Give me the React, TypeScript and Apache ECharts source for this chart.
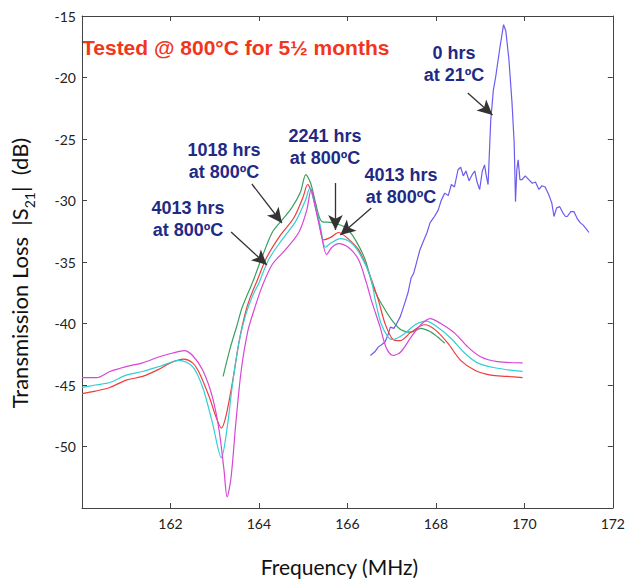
import React, { useEffect, useRef } from "react";
import * as echarts from "echarts";

// ---- Data ----
const greenFreq = [163.19, 163.35, 163.5, 163.62, 163.85, 164.07, 164.3, 164.52, 164.74, 164.94, 165.06, 165.17, 165.28, 165.42, 165.65, 165.96, 166.18, 166.4, 166.58, 166.77, 167.0, 167.21, 167.44, 167.66, 167.89, 168.04, 168.2];
const greenLoss = [-44.3, -42.0, -40.2, -38.7, -36.7, -34.6, -32.6, -31.6, -30.6, -29.3, -27.9, -28.6, -30.2, -31.7, -31.8, -32.2, -33.2, -34.8, -37.0, -38.4, -39.7, -40.5, -40.7, -40.4, -40.7, -41.1, -41.6];

const redFreq = [160.0, 160.3, 160.63, 161.0, 161.37, 161.75, 162.0, 162.3, 162.5, 162.65, 162.88, 163.03, 163.15, 163.25, 163.4, 163.55, 163.68, 163.8, 163.96, 164.18, 164.49, 164.79, 165.0, 165.1, 165.2, 165.35, 165.46, 165.62, 165.8, 165.98, 166.25, 166.47, 166.7, 166.85, 167.03, 167.19, 167.44, 167.75, 167.98, 168.27, 168.56, 168.88, 169.24, 169.6, 169.96];
const redLoss = [-45.7, -45.5, -45.2, -44.6, -44.3, -43.7, -43.2, -42.9, -43.2, -44.0, -46.0, -47.6, -48.5, -47.6, -44.8, -41.5, -39.3, -37.9, -36.5, -34.6, -32.8, -31.4, -29.7, -28.7, -29.4, -31.6, -33.2, -33.0, -32.6, -33.0, -34.0, -35.7, -38.1, -40.0, -41.3, -41.4, -40.7, -40.1, -40.5, -41.6, -43.0, -43.8, -44.2, -44.3, -44.4];

const cyanFreq = [160.0, 160.3, 160.63, 161.0, 161.37, 161.75, 162.2, 162.5, 162.73, 162.95, 163.15, 163.28, 163.4, 163.55, 163.7, 163.85, 164.0, 164.22, 164.52, 164.83, 165.05, 165.15, 165.24, 165.39, 165.5, 165.65, 165.84, 166.07, 166.29, 166.52, 166.63, 166.76, 166.92, 167.03, 167.3, 167.53, 167.78, 168.04, 168.34, 168.65, 168.94, 169.33, 169.96];
const cyanLoss = [-45.2, -45.0, -44.8, -44.2, -43.9, -43.5, -43.0, -43.5, -45.2, -48.1, -50.9, -48.5, -45.0, -41.5, -39.3, -37.8, -36.7, -34.8, -33.2, -31.7, -30.0, -29.0, -30.0, -32.1, -33.8, -33.4, -33.1, -33.4, -34.4, -36.2, -38.1, -40.0, -41.1, -41.3, -40.8, -40.1, -39.8, -40.3, -41.2, -42.4, -43.2, -43.6, -43.9];

const magentaFreq = [160.0, 160.33, 160.63, 161.0, 161.37, 161.75, 162.05, 162.31, 162.5, 162.73, 162.95, 163.1, 163.21, 163.28, 163.37, 163.48, 163.6, 163.75, 163.9, 164.07, 164.3, 164.6, 164.9, 165.08, 165.18, 165.27, 165.4, 165.53, 165.65, 165.8, 166.02, 166.25, 166.43, 166.54, 166.74, 166.88, 167.03, 167.21, 167.44, 167.66, 167.87, 168.11, 168.43, 168.72, 169.01, 169.39, 169.96];
const magentaLoss = [-44.4, -44.4, -43.9, -43.5, -43.2, -42.7, -42.4, -42.2, -42.6, -43.8, -46.0, -48.7, -51.9, -54.1, -52.5, -48.0, -43.8, -40.6, -38.8, -37.0, -35.2, -34.0, -32.6, -30.8, -29.1, -30.5, -32.6, -34.4, -33.8, -33.5, -33.8, -34.8, -36.7, -38.1, -40.3, -42.0, -42.6, -42.3, -41.1, -40.1, -39.6, -40.0, -40.8, -41.9, -42.7, -43.1, -43.2];

const blueFreq = [166.52, 166.62, 166.7, 166.78, 166.85, 166.92, 166.97, 167.05, 167.1, 167.2, 167.3, 167.37, 167.44, 167.5, 167.58, 167.64, 167.72, 167.8, 167.87, 167.95, 168.05, 168.12, 168.2, 168.28, 168.35, 168.42, 168.5, 168.56, 168.62, 168.68, 168.75, 168.82, 168.88, 168.93, 168.99, 169.05, 169.1, 169.14, 169.18, 169.24, 169.3, 169.35, 169.45, 169.53, 169.58, 169.65, 169.72, 169.77, 169.8, 169.83, 169.86, 169.9, 169.95, 170.02, 170.1, 170.18, 170.25, 170.33, 170.4, 170.47, 170.56, 170.62, 170.67, 170.73, 170.8, 170.87, 170.93, 170.97, 171.05, 171.12, 171.2, 171.26, 171.33, 171.4, 171.46];
const blueLoss = [-42.6, -42.3, -41.9, -41.7, -41.5, -40.9, -40.3, -40.4, -40.1, -39.4, -38.3, -37.5, -36.3, -35.9, -34.8, -34.0, -33.3, -32.6, -31.8, -31.4, -30.8, -30.0, -29.4, -29.6, -28.7, -28.9, -27.5, -27.3, -28.0, -27.6, -28.4, -27.9, -27.6, -28.5, -29.1, -27.6, -27.1, -28.0, -28.7, -23.5, -21.0, -20.0, -17.5, -15.7, -16.2, -18.5, -22.0, -25.3, -30.1, -27.5, -26.7, -28.3, -28.3, -28.0, -28.3, -28.6, -28.5, -29.1, -28.8, -28.9, -29.6, -30.2, -31.3, -30.6, -30.5, -31.0, -31.3, -31.3, -30.9, -30.9, -31.5, -31.8, -32.0, -32.3, -32.6];

// annotation arrows: [freq, loss] of tail and head
const arrowTails = [[163.84, -28.66], [163.37, -32.56], [165.73, -28.58], [166.54, -30.61], [168.72, -21.26]];
const arrowHeads = [[164.52, -31.83], [164.18, -35.24], [165.73, -32.4], [165.84, -32.8], [169.28, -23.05]];

const xTicks = { min: 160, max: 172, interval: 2 };
const yTicks = { min: -55, max: -15, interval: 5 };

const zip = (a: number[], b: number[]) => a.map((v, i) => [v, b[i]]);

export default function App() {
  const ref = useRef<HTMLDivElement>(null);
  useEffect(() => {
    if (!ref.current) return;
    const chart = echarts.init(ref.current, undefined, { renderer: "svg" });
    const tickFont = { fontFamily: "Lato", fontSize: 14, color: "#222" };
    const axisLine = { show: true, lineStyle: { color: "#444", width: 1 } };
    const annFont = {
      fontFamily: "Liberation Sans, Arial, sans-serif",
      fontWeight: "bold" as const,
      fontSize: 18,
      fill: "#1f2a85",
      lineHeight: 22,
      align: "center" as const,
      verticalAlign: "middle" as const,
    };
    const annText = (x: number, y: number, text: string) => ({
      type: "text",
      x,
      y,
      style: { ...annFont, text },
    });
    const lineSeries = (name: string, f: number[], l: number[], color: string, smooth: number | boolean) => ({
      name,
      type: "line",
      data: zip(f, l),
      showSymbol: false,
      smooth,
      lineStyle: { color, width: 1.2 },
      itemStyle: { color },
      z: 3,
    });
    chart.setOption({
      animation: false,
      backgroundColor: "#ffffff",
      grid: { left: 82, right: 12, top: 16, bottom: 74, containLabel: false },
      xAxis: [
        {
          type: "value",
          ...xTicks,
          position: "bottom",
          axisLine,
          axisTick: { show: true, inside: true, length: 5, lineStyle: { color: "#444" } },
          splitLine: { show: false },
          axisLabel: { ...tickFont, margin: 8, formatter: (v: number) => (v === 160 ? "" : String(v)) },
          name: "Frequency (MHz)",
          nameLocation: "middle",
          nameGap: 48,
          nameTextStyle: { fontFamily: "Lato", fontSize: 21, color: "#111", padding: [0, 16, 0, 0] },
        },
        {
          type: "value",
          ...xTicks,
          position: "top",
          axisLine,
          axisTick: { show: true, inside: true, length: 5, lineStyle: { color: "#444" } },
          axisLabel: { show: false },
          splitLine: { show: false },
        },
      ],
      yAxis: [
        {
          type: "value",
          ...yTicks,
          position: "left",
          axisLine,
          axisTick: { show: true, inside: true, length: 5, lineStyle: { color: "#444" } },
          splitLine: { show: false },
          axisLabel: { ...tickFont, margin: 6, formatter: (v: number) => (v === -55 ? "" : String(v)) },
          name: "{a|Transmission Loss  |S}{s|21}{a||  (dB)}",
          nameLocation: "middle",
          nameRotate: 90,
          nameGap: 46,
          nameTextStyle: {
            padding: [0, 22, 0, 0],
            rich: {
              a: { fontFamily: "Lato", fontSize: 22, color: "#111", lineHeight: 28, verticalAlign: "top" },
              s: { fontFamily: "Lato", fontSize: 14, color: "#111", lineHeight: 28, verticalAlign: "bottom" },
            },
          },
        },
        {
          type: "value",
          ...yTicks,
          position: "right",
          axisLine,
          axisTick: { show: true, inside: true, length: 5, lineStyle: { color: "#444" } },
          axisLabel: { show: false },
          splitLine: { show: false },
        },
      ],
      series: [
        lineSeries("0 hrs at 21ºC", blueFreq, blueLoss, "#6b5cf0", false),
        lineSeries("1018 hrs at 800ºC", greenFreq, greenLoss, "#3c9e62", 0.3),
        lineSeries("2241 hrs at 800ºC (red)", redFreq, redLoss, "#ee3d3d", 0.3),
        lineSeries("2241 hrs at 800ºC (cyan)", cyanFreq, cyanLoss, "#34cfd2", 0.3),
        lineSeries("4013 hrs at 800ºC", magentaFreq, magentaLoss, "#d845d4", 0.3),
        {
          name: "arrows",
          type: "line",
          data: [],
          z: 5,
          markLine: {
            silent: true,
            symbol: ["none", "arrow"],
            symbolSize: [11, 15],
            label: { show: false },
            lineStyle: { color: "#333", width: 1.3, type: "solid" },
            data: arrowTails.map((t, i) => [{ coord: t }, { coord: arrowHeads[i] }]),
          },
        },
      ],
      graphic: [
        {
          type: "text",
          x: 82,
          y: 47,
          style: {
            text: "Tested @ 800°C for 5½ months",
            fontFamily: "Liberation Sans, Arial, sans-serif",
            fontWeight: "bold",
            fontSize: 21,
            fill: "#f2361c",
            verticalAlign: "middle",
            align: "left",
          },
        },
        annText(224, 161, "1018 hrs\nat 800ºC"),
        annText(188, 219, "4013 hrs\nat 800ºC"),
        annText(325, 147, "2241 hrs\nat 800ºC"),
        annText(401, 186, "4013 hrs\nat 800ºC"),
        annText(454, 64, "0 hrs\nat 21ºC"),
      ],
    });
    return () => chart.dispose();
  }, []);
  return <div ref={ref} style={{ position: "fixed", left: 0, top: 0, width: 628, height: 582 }} />;
}
